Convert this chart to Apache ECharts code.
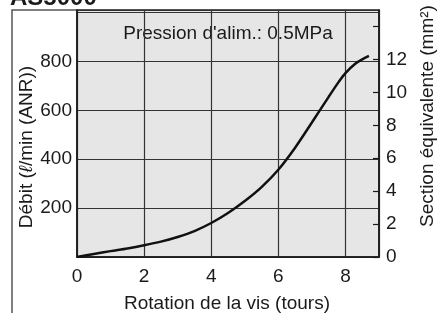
<!DOCTYPE html>
<html>
<head>
<meta charset="utf-8">
<script src="https://cdn.jsdelivr.net/npm/echarts@6/dist/echarts.min.js"></script>
<style>
  html, body { margin: 0; padding: 0; background: #fff; }
  #chart { width: 437px; height: 313px; }
</style>
</head>
<body>
<div id="chart"></div>
<script>
// screw rotation (turns) vs flow rate (l/min ANR)
const turns = [0, 0.5, 1, 1.5, 2, 2.5, 3, 3.5, 4, 4.5, 5, 5.5, 6, 6.5, 7, 7.5, 7.8, 8, 8.3, 8.5, 8.7]
const flow = [0, 12, 24, 35, 48, 63, 82, 106, 139, 180, 229, 286, 357, 447, 550, 655, 716, 752, 791, 808, 822]
const flowTicks = [200, 400, 600, 800]
const sectionTicks = [0, 2, 4, 6, 8, 10, 12]

const font = '"Liberation Sans", Arial, sans-serif'
const ink = '#1a1a1a'

const chart = echarts.init(document.getElementById('chart'))

chart.setOption({
    animation: false,
    grid: {
        left: 77,
        top: 10,
        right: 58,
        bottom: 56,
        show: true,
        backgroundColor: '#e6e6e6',
        borderColor: ink,
        borderWidth: 1.5
    },
    xAxis: {
        type: 'value',
        min: 0,
        max: 9,
        interval: 2,
        axisLine: { show: true, lineStyle: { color: ink, width: 1.5 } },
        axisTick: { show: false },
        axisLabel: {
            color: ink, fontSize: 19, fontFamily: 'Liberation Sans', margin: 10,
            showMaxLabel: false
        },
        splitLine: { show: true, lineStyle: { color: '#333', width: 1.2 } }
    },
    yAxis: [{
        type: 'value',
        min: 0,
        max: 1010,
        interval: 200,
        axisLine: { show: true, lineStyle: { color: ink, width: 1.5 } },
        axisTick: { show: false },
        axisLabel: {
            color: ink, fontSize: 19, fontFamily: 'Liberation Sans', margin: 5,
            showMaxLabel: false,
            formatter: v => flowTicks.includes(v) ? String(v) : ''
        },
        splitLine: { show: true, lineStyle: { color: '#333', width: 1.2 } }
    }, {
        type: 'value',
        position: 'right',
        min: 0,
        max: 15,
        interval: 2,
        axisLine: { show: true, lineStyle: { color: ink, width: 1.5 } },
        axisTick: { show: true, inside: true, length: 6, lineStyle: { color: ink, width: 1.2 } },
        axisLabel: {
            color: ink, fontSize: 19, fontFamily: 'Liberation Sans', margin: 7,
            showMaxLabel: false,
            formatter: v => sectionTicks.includes(v) ? String(v) : ''
        },
        splitLine: { show: false }
    }],
    graphic: [
        // outer frame of the figure
        {
            type: 'polyline',
            silent: true,
            shape: { points: [[12, 313], [12, 10], [379, 10]] },
            style: { stroke: '#555', lineWidth: 1.5, fill: null }
        },
        {
            type: 'text',
            left: 10,
            top: -14,
            style: { text: 'AS5000', font: 'bold 24px ' + font, fill: ink }
        },
        {
            type: 'text',
            x: 228,
            y: 34,
            style: {
                text: "Pression d'alim.: 0.5MPa",
                font: '19px ' + font,
                fill: ink,
                align: 'center',
                verticalAlign: 'middle'
            }
        },
        {
            type: 'text',
            x: 227,
            y: 304,
            style: {
                text: 'Rotation de la vis (tours)',
                font: '19px ' + font,
                fill: ink,
                align: 'center',
                verticalAlign: 'middle'
            }
        },
        {
            type: 'text',
            x: 27,
            y: 147,
            rotation: Math.PI / 2,
            style: {
                text: '{a|Débit (}{b|ℓ}{a|/min (ANR))}',
                rich: {
                    a: { font: '19px ' + font, fill: ink },
                    b: { font: 'italic 19px ' + font, fill: ink }
                },
                align: 'center',
                verticalAlign: 'middle'
            }
        },
        {
            type: 'text',
            x: 428,
            y: 116,
            rotation: Math.PI / 2,
            style: {
                text: 'Section équivalente (mm²)',
                font: '19px ' + font,
                fill: ink,
                align: 'center',
                verticalAlign: 'middle'
            }
        }
    ],
    series: [{
        name: 'Débit',
        type: 'line',
        yAxisIndex: 0,
        smooth: 0.3,
        showSymbol: false,
        data: turns.map((t, i) => [t, flow[i]]),
        lineStyle: { color: '#111', width: 2.5 }
    }]
})
</script>
</body>
</html>
